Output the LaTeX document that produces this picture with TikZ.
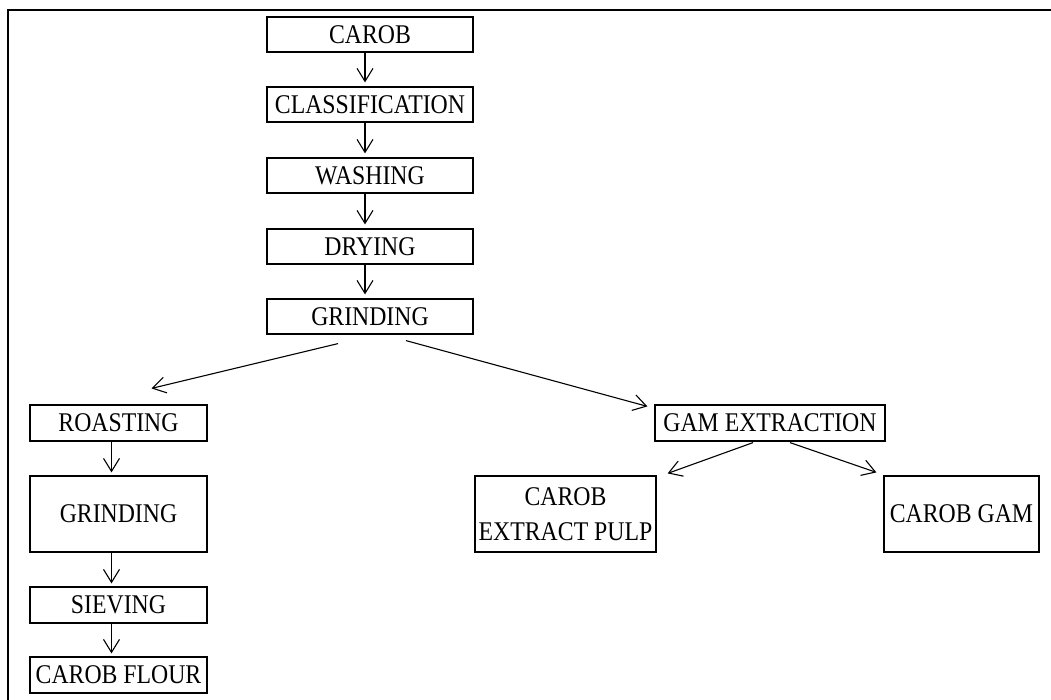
\documentclass[tikz,border=0pt]{standalone}
\usepackage{fontspec}
\setmainfont{Liberation Serif}[FakeStretch=0.88]
\usetikzlibrary{arrows.meta}
\begin{document}
\begin{tikzpicture}[x=1pt,y=-1pt]
  \tikzstyle{box}=[draw, line width=1.2pt, inner sep=0pt, align=center, font=\fontsize{27}{35}\selectfont]
  \tikzstyle{arr}=[line width=1.1pt, -{Straight Barb[length=13pt,width=16pt]}]
  \useasboundingbox (0,0) rectangle (1051,699);
  \draw[line width=2pt] (8,720) -- (8,10) -- (1070,10);

  \node[box, minimum width=206pt, minimum height=35pt] (c1) at (370, 34.5){CAROB};
  \node[box, minimum width=206pt, minimum height=35pt] (c2) at (370,104.5){CLASSIFICATION};
  \node[box, minimum width=206pt, minimum height=35pt] (c3) at (370,175.5){WASHING};
  \node[box, minimum width=206pt, minimum height=35pt] (c4) at (370,246.5){DRYING};
  \node[box, minimum width=206pt, minimum height=35pt] (c5) at (370,316.5){GRINDING};
  \draw[arr, shorten >=4pt] ([xshift=-5pt]c1.south) -- ([xshift=-5pt]c2.north);
  \draw[arr, shorten >=4pt] ([xshift=-5pt]c2.south) -- ([xshift=-5pt]c3.north);
  \draw[arr, shorten >=4pt] ([xshift=-5pt]c3.south) -- ([xshift=-5pt]c4.north);
  \draw[arr, shorten >=4pt] ([xshift=-5pt]c4.south) -- ([xshift=-5pt]c5.north);

  \node[box, minimum width=177pt, minimum height=36pt] (r1) at (118.5,423){ROASTING};
  \node[box, minimum width=177pt, minimum height=76pt] (r2) at (118.5,514){GRINDING};
  \node[box, minimum width=177pt, minimum height=36pt] (r3) at (118.5,605){SIEVING};
  \node[box, minimum width=177pt, minimum height=36pt] (r4) at (118.5,675){CAROB FLOUR};
  \draw[arr, shorten >=3pt] ([xshift=-7pt]r1.south) -- ([xshift=-7pt]r2.north);
  \draw[arr, shorten >=3pt] ([xshift=-7pt]r2.south) -- ([xshift=-7pt]r3.north);
  \draw[arr, shorten >=3pt] ([xshift=-7pt]r3.south) -- ([xshift=-7pt]r4.north);

  \node[box, minimum width=230pt, minimum height=36pt] (g1) at (770,423){GAM EXTRACTION};
  \node[box, minimum width=181pt, minimum height=76pt] (g2) at (565.5,514){CAROB\\EXTRACT PULP};
  \node[box, minimum width=155pt, minimum height=76pt] (g3) at (961.5,514){CAROB GAM};

  \draw[arr] ([xshift=-32pt,yshift=-9pt]c5.south) -- ([xshift=33pt,yshift=16pt]r1.north);
  \draw[arr] ([xshift=36pt,yshift=-6pt]c5.south) -- ([xshift=-7pt,yshift=-2pt]g1.north west);
  \draw[arr] ([xshift=-17pt,yshift=-1pt]g1.south) -- ([xshift=11pt,yshift=2pt]g2.north east);
  \draw[arr] ([xshift=20pt,yshift=-1pt]g1.south) -- ([xshift=-7pt,yshift=3pt]g3.north west);
\end{tikzpicture}
\end{document}
